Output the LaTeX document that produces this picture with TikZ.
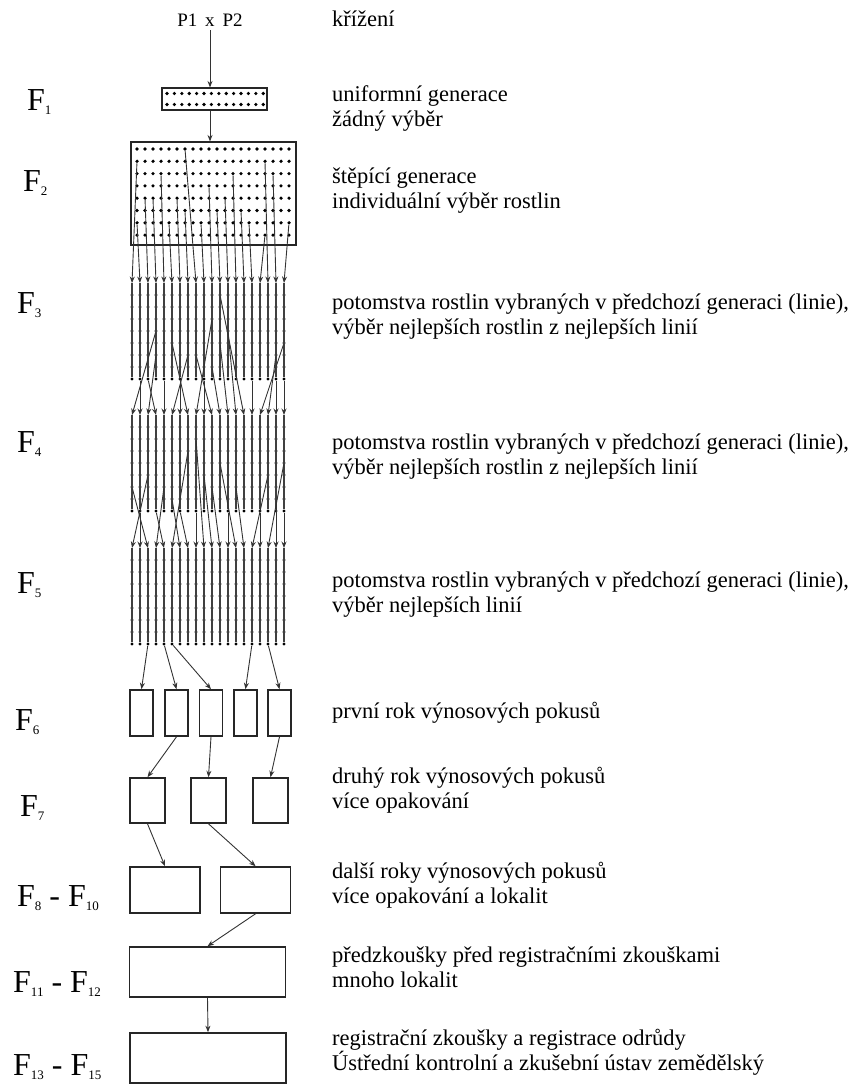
\documentclass[tikz,border=0pt]{standalone}
\usepackage{fontspec}
\setmainfont{Liberation Serif}
\usetikzlibrary{arrows.meta}
\newcommand{\Fg}[1]{F\raisebox{-0.14em}{\fontsize{13}{13}\selectfont #1}}

\begin{document}
\begin{tikzpicture}[x=1pt,y=-1pt,
  popis/.style={anchor=west, align=left, inner sep=0pt, font=\fontsize{22.5}{25}\selectfont},
  gen/.style={anchor=west, inner sep=0pt, font=\fontsize{32}{32}\selectfont},
  box/.style={draw=black!85, line width=1.6pt, inner sep=0pt},
  sip/.style={-{Stealth[length=6.5pt,width=5pt]}, black!80, line width=0.9pt},
  linie/.style={black!75, line width=1.1pt},
  tecka/.style={circle, fill=black, inner sep=0pt, minimum size=3.6pt}]
\useasboundingbox (0,0) rectangle (852,1086);

% krizeni a F1
\node[font=\fontsize{19}{19}\selectfont] (krizeni) at (210,20) {P1\, x\, P2};
\node[box, line width=1.1pt, minimum width=105pt, minimum height=22pt] (f1box) at (214.5,99) {};
\foreach \c in {0,...,13}
  \foreach \r in {0,1}
    \node[tecka] (d1-\c-\r) at ({167+7.4*\c},{93.5+11*\r}) {};
\draw[sip] (krizeni) -- (krizeni |- f1box.north);

% F2
\node[box, line width=1.1pt, minimum width=165pt, minimum height=103pt] (f2box) at (213.5,193.5) {};
\foreach \c in {0,...,19}
  \foreach \r in {0,...,7}
    \node[tecka] (d2-\c-\r) at ({137+8*\c},{149+12.3*\r}) {};
\draw[sip] (f1box.south -| krizeni) -- (f2box.north -| krizeni);

% linie F3 - F5
\foreach \g/\y in {3/283,4/415,5/548}
  \foreach \t in {0,...,19} {
    \coordinate (g\g t-\t) at ({132+8*\t},\y);
    \foreach \k in {1,...,8}
      \node[tecka, minimum size=3.2pt] (g\g-\t-\k) at ({132+8*\t},{\y+12*\k}) {};
    \draw[linie] (g\g t-\t) -- (g\g-\t-8);
  }

\foreach \t/\c/\r in {0/0/1,1/0/6,2/1/4,3/2/4,4/3/2,5/4/6,6/5/4,7/6/5,8/6/0,9/8/6,
    10/9/3,11/10/5,12/11/4,13/12/2,14/13/5,15/14/6,16/16/7,17/16/1,18/17/2,19/19/6}
  \draw[sip] (d2-\c-\r) -- (g3t-\t);
\foreach \t/\s/\k in {0/3/4,1/1/8,2/3/6,3/2/8,4/4/8,5/7/6,6/6/8,7/5/5,8/10/3,9/9/8,
    10/8/6,11/10/7,12/11/5,13/12/4,14/11/1,15/15/8,16/19/5,17/18/6,18/18/8,19/19/8}
  \draw[sip] (g3-\s-\k) -- (g4t-\t);
\foreach \t/\s/\k in {0/2/5,1/1/8,2/0/6,3/4/6,4/3/8,5/7/3,6/5/7,7/6/8,8/8/8,9/8/2,
    10/9/5,11/10/6,12/12/8,13/11/4,14/13/6,15/17/5,16/16/8,17/19/4,18/18/7,19/19/8}
  \draw[sip] (g4-\s-\k) -- (g5t-\t);

% pokusy
\foreach \i/\x in {1/141.5,2/176.5,3/211,4/245.5,5/279.5}
  \node[box, minimum width=23pt, minimum height=46pt] (b6-\i) at (\x,713) {};
\foreach \i/\x in {1/147.5,2/208.5,3/270.5}
  \node[box, minimum width=35pt, minimum height=45pt] (b7-\i) at (\x,800.5) {};
\node[box, minimum width=70pt, minimum height=46pt] (b8-1) at (165,890) {};
\node[box, minimum width=70pt, minimum height=46pt] (b8-2) at (255.5,890) {};
\node[box, minimum width=156pt, minimum height=50pt] (b11) at (207.5,972) {};
\node[box, minimum width=156pt, minimum height=50pt] (b13) at (208,1058) {};

\foreach \s/\i in {2/1,4/2,5/3,15/4,17/5}
  \draw[sip] (g5-\s-8) -- (b6-\i.north);
\draw[sip] (b6-2.south) -- (b7-1.north);
\draw[sip] (b6-3.south) -- (b7-2.north);
\draw[sip] (b6-5.south) -- (b7-3.north);
\draw[sip] (b7-1.south) -- (b8-1.north);
\draw[sip] (b7-2.south) -- (b8-2.north);
\draw[sip] (b8-2.south) -- (b11.north);
\draw[sip] (b11.south) -- (b13.north);

% generace vlevo
\node[gen] (n1) at (27,102) {\Fg{1}};
\node[gen] (n2) at (23,183) {\Fg{2}};
\node[gen] (n3) at (17,305) {\Fg{3}};
\node[gen] (n4) at (17,444) {\Fg{4}};
\node[gen] (n5) at (17,585) {\Fg{5}};
\node[gen] (n6) at (15,722) {\Fg{6}};
\node[gen] (n7) at (20,808) {\Fg{7}};
\node[gen] (n8) at (17,898) {\Fg{8} - \Fg{10}};
\node[gen] (n11) at (13,984) {\Fg{11} - \Fg{12}};
\node[gen] (n13) at (13,1067) {\Fg{13} - \Fg{15}};

% popisy vpravo
\node[popis] (p0) at (332,19) {křížení};
\node[popis] (p1) at (332,109) {uniformní generace\\žádný výběr};
\node[popis] (p2) at (332,191) {štěpící generace\\individuální výběr rostlin};
\node[popis] (p3) at (332,317) {potomstva rostlin vybraných v předchozí generaci (linie),\\výběr nejlepších rostlin z nejlepších linií};
\node[popis] (p4) at (332,457) {potomstva rostlin vybraných v předchozí generaci (linie),\\výběr nejlepších rostlin z nejlepších linií};
\node[popis] (p5) at (332,595) {potomstva rostlin vybraných v předchozí generaci (linie),\\výběr nejlepších linií};
\node[popis] (p6) at (332,713) {první rok výnosových pokusů};
\node[popis] (p7) at (332,790) {druhý rok výnosových pokusů\\více opakování};
\node[popis] (p8) at (332,885) {další roky výnosových pokusů\\více opakování a lokalit};
\node[popis] (p11) at (332,967) {předzkoušky před registračními zkouškami\\mnoho lokalit};
\node[popis] (p13) at (332,1052) {registrační zkoušky a registrace odrůdy\\Ústřední kontrolní a zkušební ústav zemědělský};
\end{tikzpicture}
\end{document}
